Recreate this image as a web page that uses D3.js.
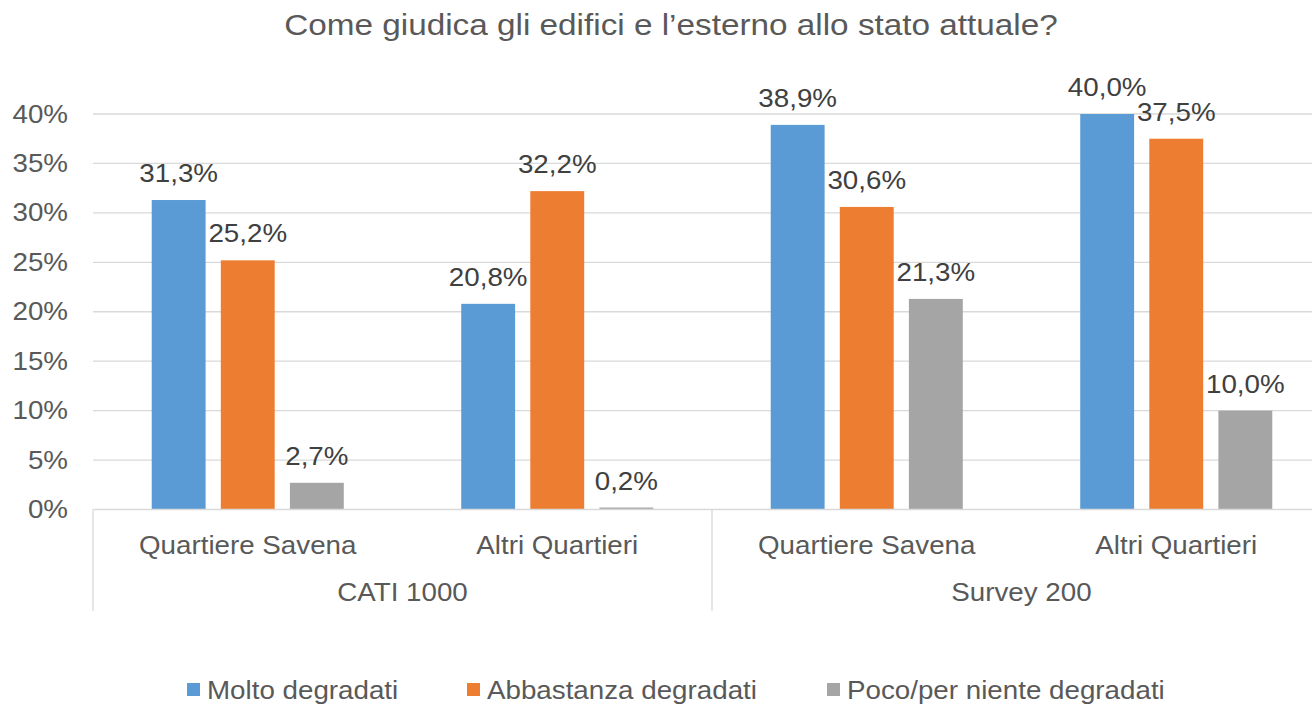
<!DOCTYPE html>
<html>
<head>
<meta charset="utf-8">
<script src="https://cdn.jsdelivr.net/npm/d3@7/dist/d3.min.js"></script>
<style>
  body { margin: 0; background: #fff; }
  text { font-family: "Liberation Sans", Arial, sans-serif; }
</style>
</head>
<body>
<svg id="chart"></svg>
<script>
(function () {
var width = 1312, height = 707
var svg = d3.select('#chart')
            .attr('width', width)
            .attr('height', height)

var title = 'Come giudica gli edifici e l\u2019esterno allo stato attuale?'
var groups = ['CATI 1000', 'Survey 200']
var categories = ['Quartiere Savena', 'Altri Quartieri', 'Quartiere Savena', 'Altri Quartieri']
var series = ['Molto degradati', 'Abbastanza degradati', 'Poco/per niente degradati']
var colors = ['#5b9bd5', '#ed7d31', '#a5a5a5']
var molto = [31.3, 20.8, 38.9, 40.0]
var abbastanza = [25.2, 32.2, 30.6, 37.5]
var poco = [2.7, 0.2, 21.3, 10.0]
var yTicks = [0, 5, 10, 15, 20, 25, 30, 35, 40]

var values = [molto, abbastanza, poco]
var catKeys = categories.map((c, i) => i)

var left = 93, catW = 309.5
var x0 = d3.scaleBand().domain(catKeys).range([left, left + catW * 4])
var x1 = d3.scaleBand().domain(d3.range(series.length)).range([0, catW])
            .paddingInner(0.22).paddingOuter(0.85)
var y = d3.scaleLinear().domain([0, 40]).range([509.5, 114])

var fmt = (v) => v.toFixed(1).replace('.', ',') + '%'

// the original text looks a bit wider than Arial, stretch it around its anchor
var sx = 1.11
function stretch(sel) {
    sel.each(function () {
        var t = d3.select(this)
        var x = +t.attr('x') || 0, yy = +t.attr('y') || 0
        t.attr('transform', 'translate(' + x + ',' + yy + ') scale(' + sx + ',1) translate(' + (-x) + ',' + (-yy) + ')')
    })
}

// title
svg.append('text')
    .attr('x', 671).attr('y', 35)
    .attr('text-anchor', 'middle')
    .style('font-size', '30px')
    .style('fill', '#595959')
    .text(title)
    .call(stretch)

// gridlines
svg.append('g')
    .selectAll('line')
    .data(yTicks.slice(1))
    .enter().append('line')
    .attr('x1', left).attr('x2', width)
    .attr('y1', (d) => y(d)).attr('y2', (d) => y(d))
    .attr('stroke', '#d9d9d9').attr('stroke-width', 1.3)

// y axis labels
var yAxis = d3.axisLeft(y).tickValues(yTicks).tickSize(0).tickPadding(25)
    .tickFormat((d) => d + '%')
var ya = svg.append('g').attr('transform', 'translate(' + left + ',0)').call(yAxis)
ya.select('.domain').remove()
ya.selectAll('text')
    .style('font-size', '25px')
    .style('font-family', '"Liberation Sans", Arial, sans-serif')
    .style('fill', '#595959')
    .call(stretch)

// bars
var cat = svg.append('g').selectAll('g')
    .data(catKeys)
    .enter().append('g')
    .attr('transform', (d) => 'translate(' + x0(d) + ',0)')

cat.selectAll('rect')
    .data((c) => values.map((s, i) => ({i: i, v: s[c]})))
    .enter().append('rect')
    .attr('x', (d) => x1(d.i))
    .attr('width', x1.bandwidth())
    .attr('y', (d) => y(d.v))
    .attr('height', (d) => y(0) - y(d.v))
    .attr('fill', (d) => colors[d.i])

cat.selectAll('text.val')
    .data((c) => values.map((s, i) => ({i: i, v: s[c]})))
    .enter().append('text')
    .attr('class', 'val')
    .attr('x', (d) => x1(d.i) + x1.bandwidth() / 2)
    .attr('y', (d) => y(d.v) - 18)
    .attr('text-anchor', 'middle')
    .style('font-size', '25px')
    .style('fill', '#404040')
    .text((d) => fmt(d.v))
    .call(stretch)

// x axis line and separators
svg.append('line')
    .attr('x1', left).attr('x2', width)
    .attr('y1', y(0)).attr('y2', y(0))
    .attr('stroke', '#d9d9d9').attr('stroke-width', 1.3)

var seps = [0, 2, 4]
svg.append('g').selectAll('line')
    .data(seps)
    .enter().append('line')
    .attr('x1', (d) => left + catW * d).attr('x2', (d) => left + catW * d)
    .attr('y1', y(0)).attr('y2', 611)
    .attr('stroke', '#d9d9d9').attr('stroke-width', 1.3)

// category labels
svg.append('g').selectAll('text')
    .data(catKeys)
    .enter().append('text')
    .attr('x', (d) => x0(d) + catW / 2)
    .attr('y', 554)
    .attr('text-anchor', 'middle')
    .style('font-size', '25px')
    .style('fill', '#595959')
    .text((d) => categories[d])
    .call(stretch)

// group labels
svg.append('g').selectAll('text')
    .data(groups)
    .enter().append('text')
    .attr('x', (d, i) => left + catW * (2 * i + 1))
    .attr('y', 601)
    .attr('text-anchor', 'middle')
    .style('font-size', '25px')
    .style('fill', '#595959')
    .text((d) => d)
    .call(stretch)

// legend
var legX = [187, 467, 827]
var leg = svg.append('g').selectAll('g')
    .data(series)
    .enter().append('g')
    .attr('transform', (d, i) => 'translate(' + legX[i] + ',690)')
leg.append('rect')
    .attr('x', 0).attr('y', -7)
    .attr('width', 13).attr('height', 13)
    .attr('fill', (d, i) => colors[i])
leg.append('text')
    .attr('x', 20).attr('y', 9)
    .style('font-size', '25px')
    .style('fill', '#595959')
    .text((d) => d)
    .call(stretch)
})();
</script>
</body>
</html>
